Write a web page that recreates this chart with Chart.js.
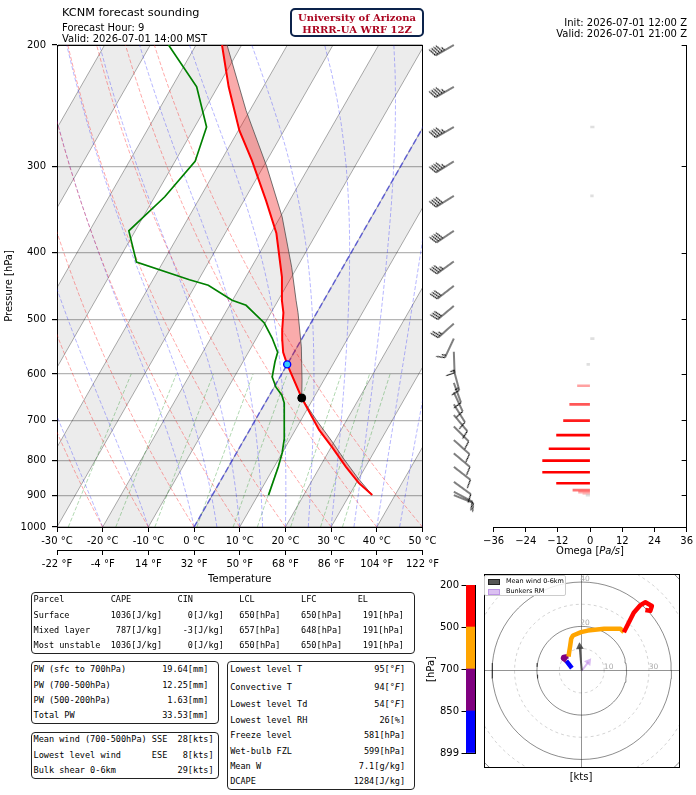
<!DOCTYPE html>
<html>
<head>
<meta charset="utf-8">
<title>KCNM forecast sounding</title>
<script src="https://cdn.jsdelivr.net/npm/chart.js"></script>
<style>
  body { margin: 0; width: 696px; height: 795px; position: relative; overflow: hidden; background: #fff;
         font-family: 'DejaVu Sans', sans-serif; color: #000; }
  canvas { position: absolute; }
  .txt { position: absolute; white-space: pre; line-height: 1; transform: translateY(-50%); }
  .box { position: absolute; box-sizing: border-box; border: 1.5px solid #222; border-radius: 4px; }
  .row { position: absolute; white-space: pre; font-family: 'DejaVu Sans Mono', monospace; font-size: 8.56px; line-height: 12px; }
  #ua { position: absolute; left: 290px; top: 8px; width: 134px; height: 29px; box-sizing: border-box;
        border: 2px solid #0c234b; border-radius: 5px; text-align: center; color: #ab0520;
        font: bold 10px 'DejaVu Serif', serif; line-height: 12px; padding-top: 1.5px; }
  #legend { position: absolute; left: 484px; top: 575px; width: 82px; height: 21px; box-sizing: border-box;
            border: 1px solid #ccc; border-radius: 2px; background: rgba(255,255,255,0.85);
            font-size: 6.5px; line-height: 10px; }
  #legend span.p { position: absolute; left: 2.5px; width: 10.5px; height: 4.5px; }
  #legend span.l { position: absolute; left: 21px; white-space: pre; }
</style>
</head>
<body>
<canvas id="skew" width="442" height="600" style="left:0;top:0"></canvas>
<canvas id="barbs" width="65" height="540" style="left:425px;top:0"></canvas>
<canvas id="omega" width="216" height="560" style="left:480px;top:0"></canvas>
<canvas id="cbar" width="55" height="200" style="left:425px;top:570px"></canvas>
<canvas id="hodo" width="205" height="215" style="left:480px;top:570px"></canvas>

<div class="txt" style="left:62px;top:13px;font-size:11.3px">KCNM forecast sounding</div>
<div class="txt" style="left:62px;top:28px;font-size:10px">Forecast Hour: 9</div>
<div class="txt" style="left:62px;top:38.5px;font-size:10px">Valid: 2026-07-01 14:00 MST</div>
<div class="txt" style="right:9px;top:22.5px;font-size:10px;text-align:right">Init: 2026-07-01 12:00 Z</div>
<div class="txt" style="right:9px;top:33.5px;font-size:10px;text-align:right">Valid: 2026-07-01 21:00 Z</div>
<div id="ua">University of Arizona<br>HRRR-UA WRF 12Z</div>
<div class="txt" style="left:590px;top:551px;font-size:10px;transform:translate(-50%,-50%)">Omega [<i>Pa/s</i>]</div>
<div class="txt" style="left:581px;top:777px;font-size:10px;transform:translate(-50%,-50%)">[kts]</div>
<div id="legend">
  <span class="p" style="top:2.5px;background:#555;border:0.8px solid #222"></span><span class="l" style="top:0">Mean wind 0-6km</span>
  <span class="p" style="top:12.5px;background:rgba(190,140,230,0.55);border:0.8px solid rgba(170,120,220,0.6)"></span><span class="l" style="top:10px">Bunkers RM</span>
</div>

<script>
// ---- sounding profiles (hPa, degC) ----
const tempP = [899, 863, 818, 766, 723, 650, 581, 558, 536, 518, 489, 469, 434, 375, 336, 294, 266, 230, 200];
const tempT = [35.0, 30.5, 25.7, 20.2, 15.2, 7.4, 0.0, -2.4, -4.1, -5.4, -7.3, -9.2, -12.1, -18.8, -25.2, -33.3, -39.8, -47.6, -54.3];
const dewP = [899, 818, 781, 748, 661, 644, 627, 606, 576, 558, 532, 506, 477, 469, 446, 438, 413, 372, 332, 295, 263, 230, 200];
const dewT = [12.3, 10.9, 10.0, 8.8, 4.2, 2.7, 0.4, -1.7, -3.0, -3.6, -6.6, -10.2, -16.4, -20.1, -27.2, -32.0, -45.8, -51.4, -47.8, -45.6, -47.4, -54.6, -66.0];
const parcelP = [899, 850, 800, 750, 700, 650, 612, 548, 489, 469, 420, 355, 300, 249, 200];
const parcelT = [35.0, 29.8, 24.6, 19.3, 13.4, 7.4, 5.2, 0.9, -4.1, -6.1, -11.2, -19.6, -29.3, -40.8, -53.2];
const lclPoint = [650, 7.4];
const freezePoint = [581, 0.0];

// ---- wind barbs (hPa, deg from, kts) ----
const barbP = [200, 230, 263, 295, 331, 372, 412, 447, 478, 507, 533, 557, 592, 618, 638, 664, 688, 715, 748, 782, 818, 860, 889, 899];
const barbSpd = [45, 45, 45, 45, 40, 40, 35, 30, 30, 25, 15, 15, 15, 10, 10, 10, 10, 10, 10, 10, 10, 10, 10, 10];
const barbDir = [240, 240, 240, 238, 238, 236, 234, 232, 230, 228, 205, 178, 165, 160, 155, 148, 140, 135, 132, 130, 128, 126, 118, 112];

// ---- omega (hPa, Pa/s) ----
const omegaP = [263, 331, 533, 581, 624, 664, 701, 736, 770, 801, 833, 864, 884, 890, 895, 899];
const omegaVal = [1.5, 1.2, 1.5, -1.2, -4.7, -7.6, -9.9, -12.5, -15.3, -17.7, -17.7, -12.5, -6.4, -4.3, -2.7, -1.5];

// ---- hodograph (hPa, u kts, v kts) ----
const hodoP = [899, 875, 850, 825, 800, 760, 725, 700, 680, 660, 640, 620, 600, 580, 560, 530, 500, 450, 400, 350, 300, 250, 200];
const hodoU = [-4.4, -5.6, -6.9, -8.0, -8.4, -8.2, -7.0, -5.9, -5.6, -5.2, -4.7, -3.9, -0.3, 2.7, 10.0, 17.3, 18.8, 23.2, 26.2, 28.4, 31.3, 30.6, 28.4];
const hodoV = [1.2, 2.8, 4.5, 5.2, 5.6, 6.2, 6.4, 6.4, 8.5, 11.0, 14.5, 15.9, 17.4, 18.1, 18.9, 18.9, 17.4, 26.2, 29.6, 30.9, 29.2, 27.0, 27.4];
const meanWind = [-0.9, 10.8];
const bunkersRM = [3.0, 4.0];
const hodoRings = [10, 20, 30, 40, 50, 60];

// ---- colour bar ----
const cbLabels = ['899', '850', '700', '500', '200'];
const cbColors = ['#0000ff', '#800080', '#ffa500', '#ff0000'];

// ---- axis ticks and background guides ----
const pressTicks = [1000, 900, 800, 700, 600, 500, 400, 300, 200];
const tempTicksC = [-30, -20, -10, 0, 10, 20, 30, 40, 50];
const tempTicksF = [-22, -4, 14, 32, 50, 68, 86, 104, 122];
const omegaTicks = [-36, -24, -12, 0, 12, 24, 36];
const dryAdiabatT0 = [-30, -20, -10, 0, 10, 20, 30, 40, 50];
const moistAdiabatT0 = [-30, -20, -10, 0, 5, 10, 15, 20, 25, 30, 35, 40, 45, 50];
const mixingRatios = [0.0004, 0.001, 0.002, 0.004, 0.007, 0.01, 0.016, 0.024, 0.032];

// ---- tables ----
const parcelTable = [
  [['Parcel', 0], ['CAPE', 15], ['CIN', 28], ['LCL', 40], ['LFC', 52], ['EL', 63]],
  [['Surface', 0], ['1036[J/kg]', 25, 'r'], ['0[J/kg]', 37, 'r'], ['650[hPa]', 40], ['650[hPa]', 52], ['191[hPa]', 72, 'r']],
  [['Mixed layer', 0], ['787[J/kg]', 25, 'r'], ['-3[J/kg]', 37, 'r'], ['657[hPa]', 40], ['648[hPa]', 52], ['191[hPa]', 72, 'r']],
  [['Most unstable', 0], ['1036[J/kg]', 25, 'r'], ['0[J/kg]', 37, 'r'], ['650[hPa]', 40], ['650[hPa]', 52], ['191[hPa]', 72, 'r']]
];
const pwTable = [
  [['PW (sfc to 700hPa)', 0], ['19.64[mm]', 34, 'r']],
  [['PW (700-500hPa)', 0], ['12.25[mm]', 34, 'r']],
  [['PW (500-200hPa)', 0], ['1.63[mm]', 34, 'r']],
  [['Total PW', 0], ['33.53[mm]', 34, 'r']]
];
const windTable = [
  [['Mean wind (700-500hPa)', 0], ['SSE', 23], ['28[kts]', 35, 'r']],
  [['Lowest level wind', 0], ['ESE', 23], ['8[kts]', 35, 'r']],
  [['Bulk shear 0-6km', 0], ['29[kts]', 35, 'r']]
];
const indexTable = [
  [['Lowest level T', 0], ['95[°F]', 34, 'r']],
  [['Convective T', 0], ['94[°F]', 34, 'r']],
  [['Lowest level Td', 0], ['54[°F]', 34, 'r']],
  [['Lowest level RH', 0], ['26[%]', 34, 'r']],
  [['Freeze level', 0], ['581[hPa]', 34, 'r']],
  [['Wet-bulb FZL', 0], ['599[hPa]', 34, 'r']],
  [['Mean W', 0], ['7.1[g/kg]', 34, 'r']],
  [['DCAPE', 0], ['1284[J/kg]', 34, 'r']]
];

Chart.defaults.font.family = "'DejaVu Sans', sans-serif";
Chart.defaults.font.size = 10;
Chart.defaults.color = '#000';

const SKEW = 37.54;   // degC of horizontal shift per ln(1000/p)
const skx = (t, p) => t + SKEW * Math.log(1000 / p);
const pt = (t, p) => ({x: skx(t, p), y: p});
const RD = 287.04749, CPD = 1004.6662, LV = 2.50084e6, EPS = 0.6219569;

const guideP = [];
for (let p = 1000; p >= 200; p -= 20) guideP.push(p);

function satVap(tc) { return 6.112 * Math.exp(17.67 * tc / (tc + 243.5)); }
function moistSlope(tk, p) {
  const es = satVap(tk - 273.15);
  const rs = EPS * es / (p - es);
  return ((RD * tk + LV * rs) / p) / (CPD + (LV * LV * rs * EPS) / (RD * tk * tk));
}
function moistAdiabat(t0) {
  let tk = t0 + 273.15;
  const out = [pt(t0, 1000)];
  for (let p = 1000; p > 200; p -= 20) {
    const h = -20;
    const k1 = moistSlope(tk, p);
    const k2 = moistSlope(tk + h * k1 / 2, p + h / 2);
    const k3 = moistSlope(tk + h * k2 / 2, p + h / 2);
    const k4 = moistSlope(tk + h * k3, p + h);
    tk += h * (k1 + 2 * k2 + 2 * k3 + k4) / 6;
    out.push(pt(tk - 273.15, p + h));
  }
  return out;
}

// ---------------- Skew-T ----------------
const skewSets = [];
for (let t0 = -100; t0 <= 40; t0 += 20) {
  skewSets.push({data: [pt(t0, 1000), pt(t0, 200), pt(t0 + 10, 200), pt(t0 + 10, 1000)],
    fill: 'shape', backgroundColor: 'rgba(0,0,0,0.075)', borderWidth: 0, order: 9});
}
for (let t = -100; t <= 50; t += 10) {
  skewSets.push({data: [pt(t, 1000), pt(t, 200)], borderColor: 'rgba(0,0,0,0.33)', borderWidth: 1, order: 8});
}
dryAdiabatT0.forEach(t0 => {
  skewSets.push({data: guideP.map(p => pt((t0 + 273.15) * Math.pow(p / 1000, RD / CPD) - 273.15, p)),
    borderColor: 'rgba(255,0,0,0.38)', borderWidth: 0.9, borderDash: [4, 2], order: 7});
});
moistAdiabatT0.forEach(t0 => {
  skewSets.push({data: moistAdiabat(t0), borderColor: 'rgba(0,0,255,0.32)', borderWidth: 0.9, borderDash: [4, 2], order: 7});
});
mixingRatios.forEach(w => {
  const pts = [];
  for (let p = 1000; p >= 600; p -= 50) {
    const l = Math.log((w * p / (EPS + w)) / 6.112);
    pts.push(pt(243.5 * l / (17.67 - l), p));
  }
  skewSets.push({data: pts, borderColor: 'rgba(0,128,0,0.35)', borderWidth: 0.9, borderDash: [4, 2], order: 7});
});
skewSets.push({data: [pt(0, 1000), pt(0, 200)], borderColor: 'rgba(40,40,220,0.6)', borderWidth: 1.6, borderDash: [6, 3], order: 6});

const parcelPts = parcelP.map((p, i) => pt(parcelT[i], p));
const tempPts = tempP.map((p, i) => pt(tempT[i], p));
skewSets.push({data: parcelPts.concat(tempPts.slice().reverse()), fill: 'shape',
  backgroundColor: 'rgba(240,0,0,0.33)', borderWidth: 0, order: 5});
skewSets.push({data: parcelPts, borderColor: 'rgba(70,70,70,0.75)', borderWidth: 1, order: 4});
skewSets.push({data: dewP.map((p, i) => pt(dewT[i], p)), borderColor: '#008000', borderWidth: 1.7, order: 3});
skewSets.push({data: tempPts, borderColor: '#ff0000', borderWidth: 2, order: 2});
skewSets.push({data: [pt(lclPoint[1], lclPoint[0])], showLine: false, pointRadius: 4,
  backgroundColor: '#000', borderColor: '#000', order: 1});
skewSets.push({data: [pt(freezePoint[1], freezePoint[0])], showLine: false, pointRadius: 3.5,
  backgroundColor: '#33ccff', borderColor: '#0000ff', borderWidth: 1.4, order: 0});

const setTicks = list => scale => { scale.ticks = list.map(v => ({value: v})); };
const borderOnly = (axis, position, extra) => Object.assign({
  axis, position, display: true, ticks: {display: false}, grid: {display: false},
  border: {display: true, color: '#000', width: 1},
  afterFit: s => { if (axis === 'x') s.height = 0; else s.width = 0; }
}, extra);

new Chart(document.getElementById('skew'), {
  type: 'line',
  data: {datasets: skewSets},
  options: {
    indexAxis: 'y', animation: false, responsive: false, devicePixelRatio: 1, events: [],
    layout: {padding: {left: 0, right: 18, top: 45, bottom: 11}},
    plugins: {legend: {display: false}, tooltip: {enabled: false}},
    elements: {point: {radius: 0}, line: {tension: 0}},
    scales: {
      x: {type: 'linear', position: 'bottom', min: -30, max: 50, afterBuildTicks: setTicks(tempTicksC),
          ticks: {callback: v => v + ' °C', padding: 3, maxRotation: 0, autoSkip: false},
          grid: {display: true, drawOnChartArea: false, tickLength: 5, tickColor: '#000'},
          border: {color: '#000', width: 1}, afterFit: s => { s.height = 23; }},
      xF: {type: 'linear', axis: 'x', position: 'bottom', min: -22, max: 122, afterBuildTicks: setTicks(tempTicksF),
          ticks: {callback: v => v + ' °F', padding: 3, maxRotation: 0, autoSkip: false},
          grid: {display: true, drawOnChartArea: false, tickLength: 5, tickColor: '#000'},
          border: {color: '#000', width: 1},
          title: {display: true, text: 'Temperature', padding: {top: 2, bottom: 4}},
          afterFit: s => { s.height = 39; }},
      xTop: borderOnly('x', 'top', {type: 'linear', min: -30, max: 50}),
      y: {type: 'logarithmic', position: 'left', min: 200, max: 1000, reverse: true, afterBuildTicks: setTicks(pressTicks),
          ticks: {callback: v => String(v), padding: 6, autoSkip: false},
          grid: {color: '#b5b5b5', lineWidth: 1.2, tickLength: 5, tickColor: '#000'},
          border: {color: '#000', width: 1},
          title: {display: true, text: 'Pressure [hPa]', padding: {top: 3, bottom: 0}},
          afterFit: s => { s.width = 57; }},
      yR: borderOnly('y', 'right', {type: 'logarithmic', min: 200, max: 1000, reverse: true})
    }
  }
});

// ---------------- wind barbs ----------------
function barbGlyph(speed) {
  const L = 21, H = 8.4, W = 5.25, S = 2.6;
  const size = 2 * L + 10;
  const c = document.createElement('canvas');
  c.width = size; c.height = size;
  const g = c.getContext('2d');
  const cx = size / 2, cy = size / 2, tip = cy - L;
  g.strokeStyle = '#000'; g.fillStyle = '#000'; g.lineWidth = 1;
  let rem = Math.round(speed / 5) * 5;
  const flags = Math.floor(rem / 50); rem -= flags * 50;
  const full = Math.floor(rem / 10); rem -= full * 10;
  const half = rem >= 5;
  g.beginPath(); g.moveTo(cx, cy); g.lineTo(cx, tip); g.stroke();
  let off = 0;
  for (let i = 0; i < flags; i++) {
    g.beginPath(); g.moveTo(cx, tip + off); g.lineTo(cx + H, tip + off + W / 2); g.lineTo(cx, tip + off + W);
    g.closePath(); g.fill();
    off += W + S;
  }
  for (let i = 0; i < full; i++) {
    g.beginPath(); g.moveTo(cx, tip + off); g.lineTo(cx + H, tip + off - W / 2); g.stroke();
    off += S;
  }
  if (half) {
    if (off === 0) off += 1.5 * S;
    g.beginPath(); g.moveTo(cx, tip + off); g.lineTo(cx + H / 2, tip + off - W / 4); g.stroke();
  }
  return c;
}
const BARB_X = 28;
new Chart(document.getElementById('barbs'), {
  type: 'scatter',
  data: {datasets: [{data: barbP.map(p => ({x: BARB_X, y: p})), pointStyle: barbSpd.map(barbGlyph),
    rotation: barbDir, pointRadius: 5, clip: false}]},
  options: {
    animation: false, responsive: false, devicePixelRatio: 1, events: [],
    layout: {padding: {left: 0, right: 0, top: 45, bottom: 13}},
    plugins: {legend: {display: false}, tooltip: {enabled: false}},
    scales: {x: {type: 'linear', min: 0, max: 65, display: false},
             y: {type: 'logarithmic', min: 200, max: 1000, reverse: true, display: false}}
  }
});

// ---------------- omega ----------------
function omegaColor(w) {
  if (w > -2) return 'rgba(185,185,185,0.45)';
  const a = Math.max(0.15, Math.min(1, (-w - 1) / 10));
  return 'rgba(255,0,0,' + a.toFixed(2) + ')';
}
const innerTicks = {
  id: 'innerTicks',
  afterDraw(chart) {
    const {ctx, chartArea, scales} = chart;
    ctx.save(); ctx.strokeStyle = '#000'; ctx.lineWidth = 1;
    scales.y.ticks.forEach(t => {
      const py = Math.round(scales.y.getPixelForValue(t.value)) + 0.5;
      ctx.beginPath(); ctx.moveTo(chartArea.right, py); ctx.lineTo(chartArea.right - 5, py); ctx.stroke();
    });
    ctx.restore();
  }
};
new Chart(document.getElementById('omega'), {
  type: 'bar',
  data: {datasets: [{data: omegaP.map((p, i) => ({x: omegaVal[i], y: p})), backgroundColor: omegaVal.map(omegaColor),
    barThickness: 2, borderWidth: 0}]},
  options: {
    indexAxis: 'y', animation: false, responsive: false, devicePixelRatio: 1, events: [],
    layout: {padding: {left: 12, right: 8, top: 45, bottom: 13}},
    plugins: {legend: {display: false}, tooltip: {enabled: false}},
    scales: {
      x: {type: 'linear', position: 'bottom', min: -36, max: 36, afterBuildTicks: setTicks(omegaTicks),
          ticks: {callback: v => v < 0 ? '\u2212' + (-v) : String(v), padding: 3, maxRotation: 0, autoSkip: false},
          grid: {display: true, drawOnChartArea: false, tickLength: 5, tickColor: '#000'},
          border: {color: '#000', width: 1}, afterFit: s => { s.height = 20; }},
      y: {type: 'logarithmic', position: 'right', min: 200, max: 1000, reverse: true, afterBuildTicks: setTicks(pressTicks),
          ticks: {display: false}, grid: {display: false}, border: {display: true, color: '#000', width: 1},
          afterFit: s => { s.width = 0; }}
    }
  },
  plugins: [innerTicks]
});

// ---------------- colour bar ----------------
new Chart(document.getElementById('cbar'), {
  type: 'bar',
  data: {labels: [''], datasets: cbColors.map(c => ({data: [1], backgroundColor: c, borderWidth: 0,
    barPercentage: 1, categoryPercentage: 1}))},
  options: {
    animation: false, responsive: false, devicePixelRatio: 1, events: [],
    layout: {padding: {left: 0, right: 5, top: 15, bottom: 17}},
    plugins: {legend: {display: false}, tooltip: {enabled: false}},
    scales: {
      x: {stacked: true, ticks: {display: false}, grid: {display: false}, border: {display: true, color: '#000'},
          afterFit: s => { s.height = 0; }},
      xTop: borderOnly('x', 'top', {type: 'linear', min: 0, max: 1}),
      y: {stacked: true, min: 0, max: 4, afterBuildTicks: setTicks([0, 1, 2, 3, 4]),
          ticks: {callback: v => cbLabels[v], padding: 2.5, autoSkip: false},
          grid: {display: true, drawOnChartArea: false, tickLength: 4.5, tickColor: '#000'},
          border: {color: '#000', width: 1},
          title: {display: true, text: '[hPa]', padding: {top: 0.5, bottom: 0}},
          afterFit: s => { s.width = 41; }},
      yR: borderOnly('y', 'right', {type: 'linear', min: 0, max: 4})
    }
  }
});

// ---------------- hodograph ----------------
function hodoColor(p) {
  if (p >= 850) return cbColors[0];
  if (p >= 700) return cbColors[1];
  if (p >= 500) return cbColors[2];
  return cbColors[3];
}
const ringLabels = {
  id: 'ringLabels',
  afterDatasetsDraw(chart) {
    const {ctx, scales: {x, y}} = chart;
    ctx.save();
    ctx.fillStyle = '#aaa'; ctx.font = "7.5px 'DejaVu Sans'"; ctx.textAlign = 'center'; ctx.textBaseline = 'middle';
    [10, 20, 30, 40].forEach((r, i) => {
      const horiz = i % 2 === 0;
      const px = horiz ? x.getPixelForValue(r + 2) : x.getPixelForValue(1.5);
      const py = horiz ? y.getPixelForValue(1.6) : y.getPixelForValue(r + 1.4);
      ctx.fillText(String(r), px, py);
    });
    ctx.restore();
  }
};
const hodoSets = hodoRings.map(r => {
  const pts = [];
  for (let a = 0; a <= 360; a += 5) pts.push({x: r * Math.cos(a * Math.PI / 180), y: r * Math.sin(a * Math.PI / 180)});
  const solid = r % 20 === 0;
  return {data: pts, borderColor: solid ? 'rgba(0,0,0,0.45)' : 'rgba(0,0,0,0.22)', borderWidth: solid ? 1 : 0.8,
    borderDash: solid ? [] : [3, 3], pointRadius: 0, order: 5};
});
hodoSets.push({data: hodoU.map((u, i) => ({x: u, y: hodoV[i]})), borderWidth: 4.5, pointRadius: 0,
  borderJoinStyle: 'round', segment: {borderColor: c => hodoColor(hodoP[c.p1DataIndex])}, order: 2});
const arrowSet = (vec, color, width, head) => ({
  data: [{x: 0, y: 0}, {x: vec[0], y: vec[1]}], borderColor: color, borderWidth: width,
  pointRadius: [0, head], pointStyle: 'triangle', backgroundColor: color, pointBorderWidth: 0,
  rotation: [0, Math.atan2(vec[0], vec[1]) * 180 / Math.PI], order: 1
});
hodoSets.push(arrowSet(meanWind, 'rgba(60,60,60,0.85)', 2, 4.5));
hodoSets.push(arrowSet(bunkersRM, 'rgba(190,140,230,0.6)', 2, 4.5));
const hodoAxis = (axis, position) => ({
  type: 'linear', axis, position, min: -43.4, max: 43.4, afterBuildTicks: setTicks([0]),
  ticks: {display: false}, grid: {display: true, drawTicks: false, color: 'rgba(0,0,0,0.42)', lineWidth: 1},
  border: {display: true, color: '#000', width: 1},
  afterFit: s => { if (axis === 'x') s.height = 0; else s.width = 0; }
});
new Chart(document.getElementById('hodo'), {
  type: 'line',
  data: {datasets: hodoSets},
  options: {
    animation: false, responsive: false, devicePixelRatio: 1, events: [],
    layout: {padding: {left: 2, right: 6, top: 2, bottom: 18}},
    plugins: {legend: {display: false}, tooltip: {enabled: false}},
    elements: {line: {tension: 0}},
    scales: {
      x: hodoAxis('x', 'bottom'),
      y: hodoAxis('y', 'left'),
      xTop: borderOnly('x', 'top', {type: 'linear', min: -43.4, max: 43.4}),
      yR: borderOnly('y', 'right', {type: 'linear', min: -43.4, max: 43.4})
    }
  },
  plugins: [ringLabels]
});

// ---------------- text tables ----------------
function layoutRow(cells) {
  const chars = new Array(80).fill(' ');
  cells.forEach(([text, col, align]) => {
    const start = align === 'r' ? col - text.length : col;
    for (let i = 0; i < text.length; i++) chars[start + i] = text[i];
  });
  return chars.join('').replace(/\s+$/, '').replace(/°F/g, '°<i>F</i>');
}
function addBox(x, y, w, h, rows, ys, textLeft) {
  const b = document.createElement('div');
  b.className = 'box';
  Object.assign(b.style, {left: x + 'px', top: y + 'px', width: w + 'px', height: h + 'px'});
  rows.forEach((r, i) => {
    const d = document.createElement('div');
    d.className = 'row';
    d.style.left = (textLeft - x - 1.5) + 'px';
    d.style.top = (ys[i] - y - 1.5 - 6) + 'px';
    d.innerHTML = layoutRow(r);
    b.appendChild(d);
  });
  document.body.appendChild(b);
}
addBox(31, 592, 384, 62, parcelTable, [599.3, 615, 630.7, 645.7], 34);
addBox(31, 661, 188, 63, pwTable, [669.3, 685, 700, 715.7], 34);
addBox(31, 732, 188, 47, windTable, [739.3, 755, 770.7], 34);
addBox(227, 661, 188, 129, indexTable, [669.3, 687.3, 704, 720, 735.3, 751, 766.7, 781.7], 230.7);
</script>
</body>
</html>
